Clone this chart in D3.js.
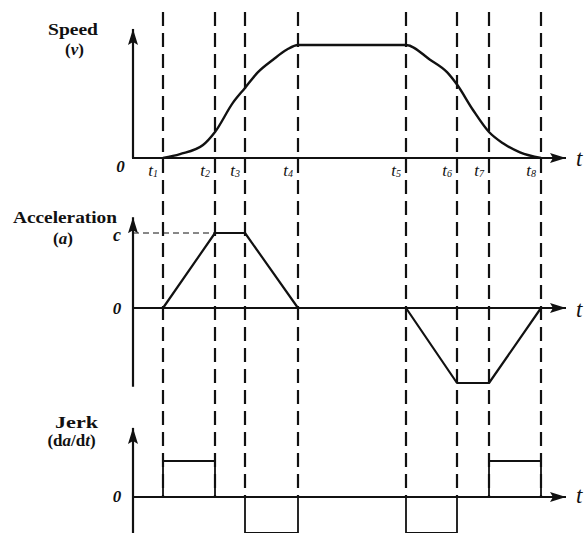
<!DOCTYPE html>
<html>
<head>
<meta charset="utf-8">
<script src="https://cdn.jsdelivr.net/npm/d3@7"></script>
<style>
  body { margin: 0; background: #fff; }
  svg { display: block; }
  text { font-family: "Liberation Serif", "Times New Roman", Times, serif; fill: #111; }
</style>
</head>
<body>
<div id="chart"></div>
<script>
// time marks (axis units) and their labels
const tickIndex = ["1", "2", "3", "4", "5", "6", "7", "8"];
const tickTimes = [3.0, 8.2, 11.2, 16.5, 27.3, 32.4, 35.6, 40.8];

// speed curve (v normalised to the top speed)
const speedT = [3.0, 4.7, 7.0, 8.2, 10.0, 11.2, 12.5, 14.0, 15.4, 16.5, 27.3, 29.7, 31.4, 32.4, 34.0, 35.6, 37.0, 38.7, 40.8];
const speedV = [0, 0.035, 0.115, 0.23, 0.49, 0.62, 0.76, 0.87, 0.96, 1.0, 1.0, 0.87, 0.76, 0.65, 0.425, 0.23, 0.13, 0.05, 0];

// acceleration (c = 1)
const accelT = [0, 3.0, 8.2, 11.2, 16.5, 27.3, 32.4, 35.6, 40.8];
const accelA = [0, 0, 1, 1, 0, 0, -1, -1, 0];

// jerk, value held from each time until the next
const jerkT = [0, 3.0, 8.2, 11.2, 16.5, 27.3, 32.4, 35.6, 40.8, 43.3];
const jerkJ = [0, 1, 0, -1, 0, -1, 0, 1, 0, 0];

const width = 585, height = 533;

const svg = d3.select("#chart")
  .append("svg")
    .attr("width", width)
    .attr("height", height);

// arrow head
svg.append("defs").append("marker")
    .attr("id", "arrow")
    .attr("viewBox", "0 -5 16 10")
    .attr("refX", 16)
    .attr("refY", 0)
    .attr("markerWidth", 16)
    .attr("markerHeight", 10)
    .attr("markerUnits", "userSpaceOnUse")
    .attr("orient", "auto")
  .append("path")
    .attr("d", "M0,-5L16,0L0,5L3,0Z")
    .attr("fill", "#111");

// shared time scale
const x = d3.scaleLinear().domain([0, 43.3]).range([133, 566]);

// one y scale per panel
const ySpeed = d3.scaleLinear().domain([0, 1]).range([158, 45]);
const yAccel = d3.scaleLinear().domain([0, 1]).range([308, 233]);
const yJerk = d3.scaleLinear().domain([0, 1]).range([497, 461]);

// dashed time marks, behind everything
svg.append("g")
  .selectAll("line")
  .data(tickTimes)
  .join("line")
    .attr("x1", d => x(d)).attr("x2", d => x(d))
    .attr("y1", 12).attr("y2", yJerk(0))
    .attr("stroke", "#111")
    .attr("stroke-width", 2.2)
    .attr("stroke-dasharray", "14,7");

// axes with arrows
function axes(y, yMin, yMax) {
  svg.append("line")
    .attr("x1", x(0)).attr("x2", x(0))
    .attr("y1", y(yMin)).attr("y2", y(yMax))
    .attr("stroke", "#111").attr("stroke-width", 2.2)
    .attr("marker-end", "url(#arrow)");
  svg.append("line")
    .attr("x1", x(0) - 1).attr("x2", x(43.3))
    .attr("y1", y(0)).attr("y2", y(0))
    .attr("stroke", "#111").attr("stroke-width", 2)
    .attr("marker-end", "url(#arrow)");
}
axes(ySpeed, 0, 1.142);
axes(yAccel, -1.05, 1.21);
axes(yJerk, -1.0, 1.92);

// speed curve
svg.append("path")
  .datum(d3.zip(speedT, speedV))
  .attr("fill", "none")
  .attr("stroke", "#111")
  .attr("stroke-width", 2.4)
  .attr("d", d3.line().x(d => x(d[0])).y(d => ySpeed(d[1])).curve(d3.curveMonotoneX));

// dashed guide at c
svg.append("line")
  .attr("x1", x(0)).attr("x2", x(tickTimes[1]))
  .attr("y1", yAccel(1)).attr("y2", yAccel(1))
  .attr("stroke", "#111").attr("stroke-width", 1)
  .attr("stroke-dasharray", "6,4");

// acceleration
svg.append("path")
  .datum(d3.zip(accelT, accelA))
  .attr("fill", "none")
  .attr("stroke", "#111")
  .attr("stroke-width", 2.2)
  .attr("stroke-linejoin", "round")
  .attr("d", d3.line().x(d => x(d[0])).y(d => yAccel(d[1])));

// jerk
svg.append("path")
  .datum(d3.zip(jerkT, jerkJ))
  .attr("fill", "none")
  .attr("stroke", "#111")
  .attr("stroke-width", 1.8)
  .attr("d", d3.line().x(d => x(d[0])).y(d => yJerk(d[1])).curve(d3.curveStepAfter));

// t1..t8 labels under speed axis
const tl = svg.append("g").selectAll("text")
  .data(d3.zip(tickTimes, tickIndex))
  .join("text")
    .attr("x", d => x(d[0]) - 5)
    .attr("y", 176)
    .attr("text-anchor", "end")
    .attr("font-style", "italic")
    .attr("font-size", 17);
tl.append("tspan").text("t");
tl.append("tspan").attr("font-size", 10).attr("dy", 1).text(d => d[1]);

// "t" at the end of each time axis
[[166], [317], [503]].forEach(([yy]) => {
  svg.append("text")
    .attr("x", 576).attr("y", yy)
    .attr("font-style", "italic").attr("font-size", 23)
    .text("t");
});

// zeros
[[120.5, 172], [117, 314], [117, 502]].forEach(([xx, yy]) => {
  svg.append("text")
    .attr("x", xx).attr("y", yy)
    .attr("text-anchor", "middle")
    .attr("font-style", "italic").attr("font-weight", "bold")
    .attr("font-size", 17)
    .text("0");
});

svg.append("text")
  .attr("x", 117).attr("y", 241)
  .attr("text-anchor", "middle")
  .attr("font-style", "italic").attr("font-weight", "bold")
  .attr("font-size", 18)
  .text("c");

// panel titles
function title(parts, cx, yy, len) {
  const t = svg.append("text")
    .attr("x", cx).attr("y", yy)
    .attr("text-anchor", "middle")
    .attr("font-weight", "bold")
    .attr("font-size", 17);
  if (len) t.attr("textLength", len).attr("lengthAdjust", "spacingAndGlyphs");
  parts.forEach(p => {
    t.append("tspan")
      .attr("font-style", p[1] ? "italic" : "normal")
      .text(p[0]);
  });
}
title([["Speed", 0]], 73, 35, 50);
title([["(", 0], ["v", 1], [")", 0]], 74.5, 55, 0);
title([["Acceleration", 0]], 65, 223, 104);
title([["(", 0], ["a", 1], [")", 0]], 63, 244, 0);
title([["Jerk", 0]], 76.5, 428, 43);
title([["(d", 0], ["a", 1], ["/d", 0], ["t", 1], [")", 0]], 71.5, 446, 0);
</script>
</body>
</html>
